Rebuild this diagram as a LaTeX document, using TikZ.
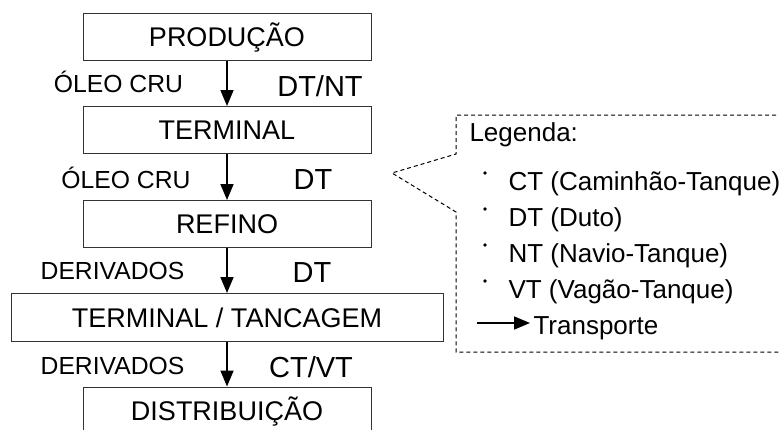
\documentclass[tikz,border=0pt]{standalone}
\usepackage{fontspec}
\setmainfont{Liberation Sans}
\usepackage{tikz}
\usetikzlibrary{arrows.meta}

\begin{document}
\begin{tikzpicture}[x=1pt,y=-1pt,>={Triangle[length=16pt,width=13pt]},
    etapa/.style={draw=black!80,line width=1pt,rectangle,inner sep=0pt,
      minimum width=288pt,minimum height=47pt,font=\fontsize{27}{27}\selectfont,
      text height=19.3pt,text depth=0pt},
    produto/.style={anchor=base,font=\fontsize{24.7}{24.7}\selectfont},
    modal/.style={anchor=base,font=\fontsize{29}{29}\selectfont},
    item/.style={anchor=base west,font=\fontsize{26}{26}\selectfont}]
    \clip (0,0) rectangle (779,429);
    % etapas da cadeia
    \node[etapa] (prod) at (227,36.5) {PRODUÇÃO};
    \node[etapa] (term) at (227,130) {TERMINAL};
    \node[etapa] (ref) at (227,224) {REFINO};
    \node[etapa,minimum width=432pt,minimum height=48pt] (tanc) at (227,317.5) {TERMINAL / TANCAGEM};
    \node[etapa] (dist) at (227,410.5) {DISTRIBUIÇÃO};
    \draw[->,line width=1.7pt] (prod) -- (term);
    \draw[->,line width=1.7pt] (term) -- (ref);
    \draw[->,line width=1.7pt] (ref) -- (tanc);
    \draw[->,line width=1.7pt] (tanc) -- (dist);
    % produtos e modais
    \node[produto] (p1) at (118.5,92) {ÓLEO CRU};
    \node[modal] (m1) at (320,96) {DT/NT};
    \node[produto] (p2) at (126,188) {ÓLEO CRU};
    \node[modal] (m2) at (313,189) {DT};
    \node[produto] (p3) at (112.5,279) {DERIVADOS};
    \node[modal] (m3) at (312,282) {DT};
    \node[produto] (p4) at (112.5,374) {DERIVADOS};
    \node[modal] (m4) at (311,377) {CT/VT};
    % legenda
    \coordinate (ponta) at (392,173);
    \draw[dash pattern=on 4pt off 3pt,line width=1pt]
      (790,115) -- (456,115) -- (456,154) -- (ponta) -- (456,212) -- (456,352) -- (790,352);
    \node[item] (leg) at (466,141) {Legenda:};
    \node[item] (ct) at (505,190) {CT (Caminhão-Tanque)};
    \node[item] (dt) at (505,226) {DT (Duto)};
    \node[item] (nt) at (505,262) {NT (Navio-Tanque)};
    \node[item] (vt) at (505,298) {VT (Vagão-Tanque)};
    \foreach \y in {173,209,245,281}
      \fill (485,\y) circle (1.8pt);
    \coordinate (ini) at (477,323);
    \node[item] (transp) at (530,334) {Transporte};
    \draw[->,line width=1.7pt] (ini) -- (transp.west |- ini);
\end{tikzpicture}
\end{document}
